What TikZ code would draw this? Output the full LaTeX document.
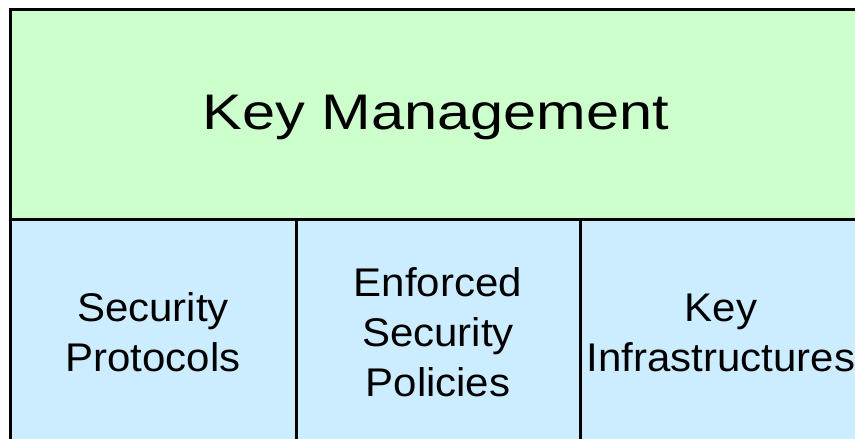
\documentclass[tikz,border=0pt]{standalone}
\usepackage{fontspec}
\setmainfont{Liberation Sans}
\definecolor{topgreen}{HTML}{CCFFCC}
\definecolor{cellblue}{HTML}{CCECFF}
\newcommand{\widetext}[2]{\raisebox{-3pt}[\height][\depth]{\scalebox{#1}[1]{\begin{tabular}{@{}c@{}}#2\end{tabular}}}}
\begin{document}
\begin{tikzpicture}[x=1pt,y=-1pt,
  boxstyle/.style={draw=black,line width=3pt,rectangle,inner sep=0pt,align=center,text=black},
  topbox/.style={boxstyle,fill=topgreen,minimum width=852pt,minimum height=210pt,font=\fontsize{50}{60}\selectfont},
  cellbox/.style={boxstyle,fill=cellblue,minimum height=228pt,font=\fontsize{40}{50}\selectfont}]
\useasboundingbox (0,0) rectangle (855,439);
\node[topbox] (km) at (436,114) {\widetext{1.19}{Key Management}};
\node[cellbox,minimum width=286pt] (sp) at (153,333) {\widetext{1.05}{Security\\Protocols}};
\node[cellbox,minimum width=284pt] (esp) at (438,333) {\widetext{1.05}{Enforced\\Security\\Policies}};
\node[cellbox,minimum width=282pt] (ki) at (721,333) {\widetext{1.05}{Key\\Infrastructures}};
\end{tikzpicture}
\end{document}
